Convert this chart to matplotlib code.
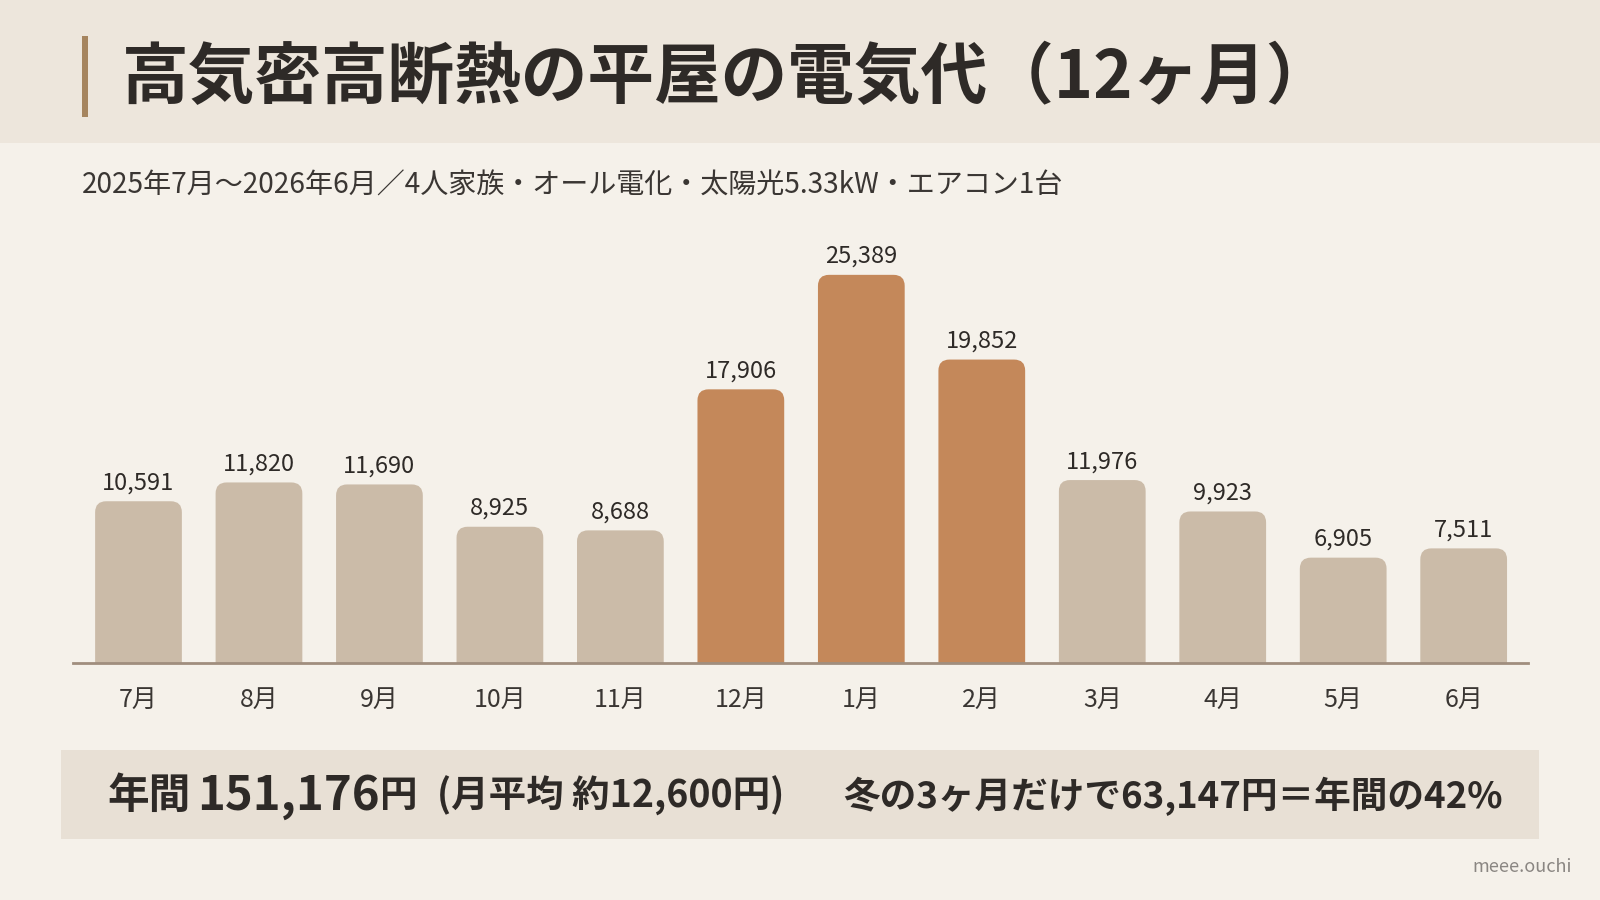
import matplotlib
matplotlib.use("Agg")
import matplotlib.pyplot as plt
from matplotlib.patches import FancyBboxPatch, Rectangle, BoxStyle

plt.rcParams['font.family'] = ['Noto Sans CJK JP', 'DejaVu Sans']

# ---- data ----
months = ["7月", "8月", "9月", "10月", "11月", "12月", "1月", "2月", "3月", "4月", "5月", "6月"]
costs = [10591, 11820, 11690, 8925, 8688, 17906, 25389, 19852, 11976, 9923, 6905, 7511]
winter_months = ["12月", "1月", "2月"]

title = "高気密高断熱の平屋の電気代（12ヶ月）"
subtitle = "2025年7月～2026年6月／4人家族・オール電化・太陽光5.33kW・エアコン1台"
annual_label = "年間"
annual_value = "151,176"
yen = "円"
monthly_avg = "(月平均 約12,600円)"
winter_note = "冬の3ヶ月だけで63,147円＝年間の42%"
credit = "meee.ouchi"

BG = "#f5f1ea"
HEADER = "#ede6dc"
LIGHT = "#cbbba8"
HIGH = "#c4885a"
AXIS = "#a08e7e"
TEXT = "#2e2a27"
BOX = "#e8e0d5"

W, H = 1600, 900
fig = plt.figure(figsize=(16, 9), dpi=100, facecolor=BG)

# header band
fig.patches.append(Rectangle((0, 0.841), 1, 0.159, transform=fig.transFigure,
                             facecolor=HEADER, edgecolor="none", zorder=0))
# accent bar
fig.patches.append(Rectangle((82 / W, 1 - 117 / H), 6 / W, 81 / H, transform=fig.transFigure,
                             facecolor="#a6855f", edgecolor="none", zorder=1))
fig.text(122 / W, 0.913, title, fontsize=48, fontweight="bold", color=TEXT,
         ha="left", va="center")
fig.text(82 / W, 1 - 186 / H, subtitle, fontsize=20.2, color="#3a3633",
         ha="left", va="center")

# chart axes
ax_l, ax_r = 0.0459, 0.9547
ax_b, ax_t = 0.263, 0.739
ax = fig.add_axes([ax_l, ax_b, ax_r - ax_l, ax_t - ax_b])
ax.set_facecolor("none")
xmin, xmax = -0.54, 11.53
ymax = 28000
ax.set_xlim(xmin, xmax)
ax.set_ylim(0, ymax)
for s in ["top", "right", "left"]:
    ax.spines[s].set_visible(False)
ax.spines["bottom"].set_color(AXIS)
ax.spines["bottom"].set_linewidth(2)
ax.set_yticks([])

x = list(range(len(months)))
colors = [HIGH if m in winter_months else LIGHT for m in months]
bars = ax.bar(x, costs, width=0.72, color=colors)

# replace bars by rounded-top versions
ax_w_px = (ax_r - ax_l) * W
ax_h_px = (ax_t - ax_b) * H
xu_per_px = (xmax - xmin) / ax_w_px
yu_per_px = ymax / ax_h_px
aspect = yu_per_px / xu_per_px
r = 11 * xu_per_px
ext = 20 * yu_per_px
for b in bars:
    bx, bw, bh = b.get_x(), b.get_width(), b.get_height()
    p = FancyBboxPatch((bx, -ext), bw, bh + ext,
                       boxstyle=BoxStyle.Round(pad=0, rounding_size=r),
                       mutation_aspect=aspect, facecolor=b.get_facecolor(),
                       edgecolor="none", zorder=2)
    ax.add_patch(p)
    b.set_visible(False)

for xi, v in zip(x, costs):
    ax.annotate(f"{v:,}", (xi, v), xytext=(0, 5), textcoords="offset points",
                ha="center", va="bottom", fontsize=17, color=TEXT)

ax.set_xticks(x)
ax.set_xticklabels(months, fontsize=18, color="#3a3633")
ax.tick_params(axis="x", length=0, pad=17)

# summary box
fig.patches.append(Rectangle((61 / W, 1 - 839 / H), (1539 - 61) / W, 89 / H,
                             transform=fig.transFigure, facecolor=BOX,
                             edgecolor="none", zorder=0))
yb = 1 - 796 / H
fig.text(107 / W, yb, annual_label, fontsize=30, fontweight="bold", color=TEXT, ha="left", va="center")
fig.text(197 / W, yb, annual_value, fontsize=34, fontweight="bold", color=TEXT, ha="left", va="center")
fig.text(380 / W, yb, yen, fontsize=27, fontweight="bold", color=TEXT, ha="left", va="center")
fig.text(437 / W, yb, monthly_avg, fontsize=27, fontweight="bold", color=TEXT, ha="left", va="center")
fig.text(843 / W, yb, winter_note, fontsize=26.4, fontweight="bold", color=TEXT, ha="left", va="center")

fig.text(1572 / W, 1 - 867 / H, credit, fontsize=13, color="#8a8682", ha="right", va="center")

fig.savefig("out.png", dpi=100, facecolor=BG)
